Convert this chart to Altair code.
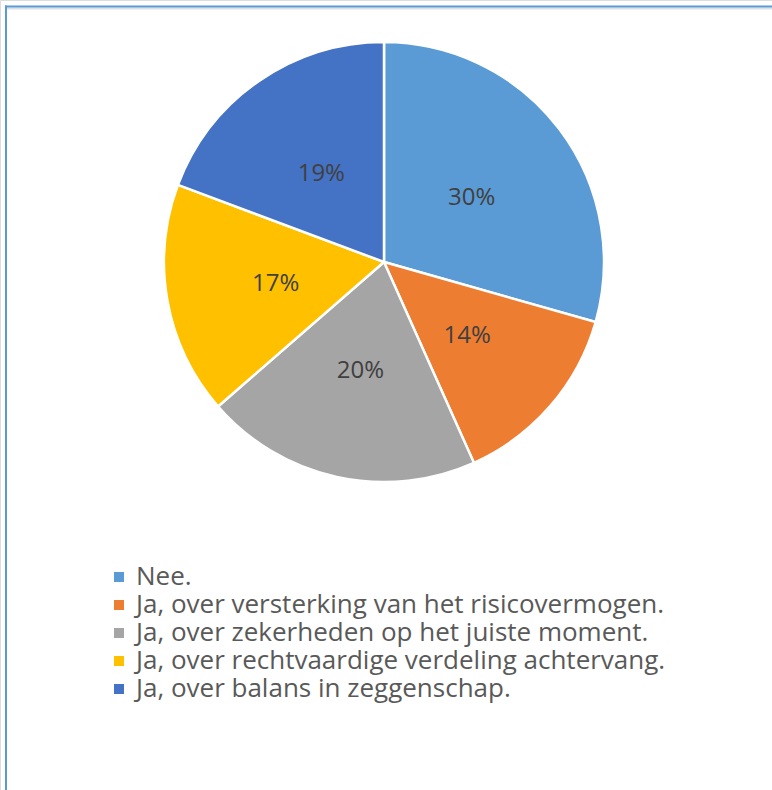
import altair as alt
import pandas as pd

categories = [
    "Nee.",
    "Ja, over versterking van het risicovermogen.",
    "Ja, over zekerheden op het juiste moment.",
    "Ja, over rechtvaardige verdeling achtervang.",
    "Ja, over balans in zeggenschap.",
]
values = [29.4, 13.9, 20.3, 17.1, 19.3]
labels = ["30%", "14%", "20%", "17%", "19%"]
colors = ["#5B9BD5", "#ED7D31", "#A5A5A5", "#FFC000", "#4472C4"]

df = pd.DataFrame({"cat": categories, "value": values, "label": labels,
                   "idx": list(range(len(categories)))})

W, H = 772, 790
cx, cy, R = 384, 262, 220

base = alt.Chart(df).encode(
    theta=alt.Theta("value:Q", stack=True),
    order=alt.Order("idx:Q"),
)

pie = base.mark_arc(outerRadius=R, stroke="white", strokeWidth=2.5).encode(
    x=alt.value(cx), y=alt.value(cy),
    color=alt.Color(
        "cat:N",
        scale=alt.Scale(domain=categories, range=colors),
        sort=categories,
        legend=alt.Legend(
            title=None, orient="none", legendX=106, legendY=564,
            symbolType="square", symbolSize=100, symbolStrokeWidth=0,
            labelFont="Open Sans", labelFontSize=26, labelColor="#595959",
            labelLimit=700, rowPadding=2, labelOffset=4,
        ),
    ),
)

text = base.mark_text(radius=110, font="Open Sans", fontSize=24, color="#404040",
                      dy=2).encode(
    x=alt.value(cx), y=alt.value(cy), text="label:N"
)

frame_df = pd.DataFrame({"d": [0]})
top = alt.Chart(frame_df).mark_rule(color="#5B9BD5", strokeWidth=2).encode(
    x=alt.value(5), x2=alt.value(W), y=alt.value(6.5)
)
top2 = alt.Chart(frame_df).mark_rule(color="#E0E0E0", strokeWidth=2).encode(
    x=alt.value(7), x2=alt.value(W), y=alt.value(8.5)
)
left = alt.Chart(frame_df).mark_rule(color="#5B9BD5", strokeWidth=2).encode(
    x=alt.value(6), y=alt.value(5.5), y2=alt.value(H)
)

chart = alt.layer(pie, text, top2, top, left).properties(
    width=W, height=H, padding=0, autosize=alt.AutoSizeParams(type="none")
).configure_view(stroke=None).configure(background="white")

chart.save("out.html", embed_options={"renderer": "svg", "actions": False})
